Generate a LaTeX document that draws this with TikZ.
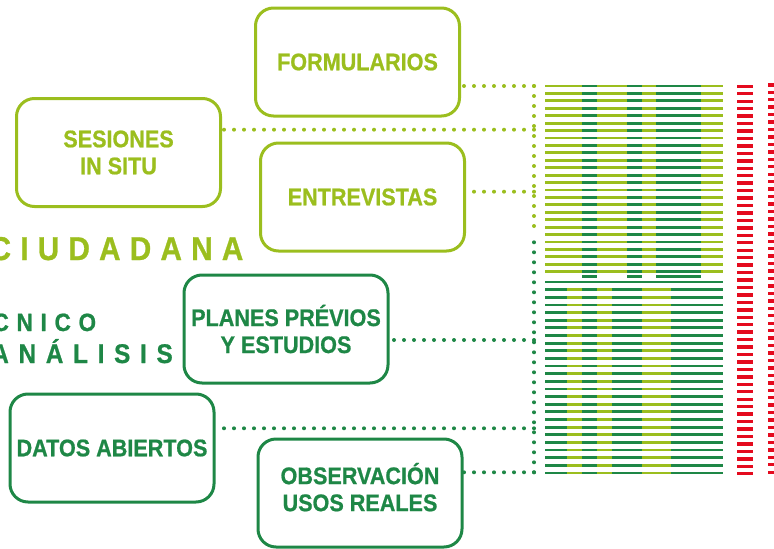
\documentclass[tikz,border=0pt]{standalone}
\usepackage{fontspec}
\setmainfont{Liberation Sans Bold}[FakeStretch=0.9,FakeBold=0.8]
\usetikzlibrary{positioning}
\definecolor{verdeclaro}{RGB}{155,190,30}
\definecolor{verdeosc}{RGB}{30,135,70}
\definecolor{rojo}{RGB}{228,10,30}
\begin{document}
\begin{tikzpicture}[x=1pt,y=-1pt,
  caja/.style={draw,line width=3pt,rounded corners=18pt,minimum width=204pt,minimum height=108pt,inner sep=0pt,align=center,font=\fontsize{24}{27}\selectfont},
  cajaclara/.style={caja,draw=verdeclaro,text=verdeclaro},
  cajaosc/.style={caja,draw=verdeosc,text=verdeosc},
  titulo/.style 2 args={anchor=base west,inner sep=0pt,font=\fontsize{#1}{#1}\selectfont\addfontfeature{LetterSpace=#2}},
  puntos/.style={line width=4pt,line cap=round,dash pattern=on 0pt off 10pt,#1},
  raya/.style={line width=2.8pt,#1}]
\useasboundingbox (0,0) rectangle (774,549);
\clip (0,0) rectangle (774,549);

\node[cajaclara] (formularios) at (357.5,62) {FORMULARIOS};
\node[cajaclara] (sesiones) at (118.5,152.5) {SESIONES\\IN SITU};
\node[cajaclara] (entrevistas) at (362.5,197) {ENTREVISTAS};
\node[cajaosc] (planes) at (286,329) {PLANES PRÉVIOS\\Y ESTUDIOS};
\node[cajaosc] (datos) at (112,448) {DATOS ABIERTOS};
\node[cajaosc,text depth=12pt] (observacion) at (360,493) {OBSERVACIÓN\\USOS REALES};

\node[titulo={33}{28},text=verdeclaro] (ciudadana) at (-10.6,260) {CIUDADANA};
\node[titulo={25}{31},text=verdeosc] (tecnico) at (-7.6,331) {CNICO};
\node[titulo={27}{36},text=verdeosc] (analisis) at (-8.9,363) {ANÁLISIS};

\coordinate (pform) at (534,86);
\coordinate (pses) at (534,129.7);
\coordinate (pent) at (534,191.7);
\coordinate (pplan) at (534,340);
\coordinate (pdat) at (534,428.3);
\coordinate (pobs) at (534,472.3);
\coordinate (finclaro) at (534,228);
\coordinate (iniosc) at (534,236);

\draw[puntos=verdeclaro] (pform) -- (formularios.east |- pform);
\draw[puntos=verdeclaro] (pses) -- (sesiones.east |- pses);
\draw[puntos=verdeclaro] (pent) -- (entrevistas.east |- pent);
\draw[puntos=verdeclaro] (pform) -- (finclaro);
\draw[puntos=verdeosc] (pplan) -- (planes.east |- pplan);
\draw[puntos=verdeosc] (pdat) -- (datos.east |- pdat);
\draw[puntos=verdeosc] (pobs) -- (observacion.east |- pobs);
\draw[puntos=verdeosc] (pobs) -- (iniosc);

\foreach \i in {0,...,25}{
  \draw[raya=verdeclaro] (545,{86+7.43*\i}) -- (723,{86+7.43*\i});
  \foreach \a/\b in {582/597,627/642,656/701}
    \draw[raya=verdeosc] (\a,{86+7.43*\i}) -- (\b,{86+7.43*\i});
}
\foreach \a/\b in {582/597,627/642,656/701}
  \draw[raya=verdeosc] (\a,276.7) -- (\b,276.7);
\foreach \i in {0,...,25}{
  \draw[raya=verdeosc] (545,{282+7.64*\i}) -- (723,{282+7.64*\i});
  \ifnum\i>0
    \foreach \a/\b in {567/582,597/612,642/671}
      \draw[raya=verdeclaro] (\a,{282+7.64*\i}) -- (\b,{282+7.64*\i});
  \fi
}
\foreach \i in {0,...,52}{
  \draw[raya=rojo,line width=3.4pt] (737,{86.3+7.45*\i}) -- (753,{86.3+7.45*\i});
  \draw[raya=rojo,line width=3.4pt] (768,{84.8+7.45*\i}) -- (786,{84.8+7.45*\i});
}
\end{tikzpicture}
\end{document}
